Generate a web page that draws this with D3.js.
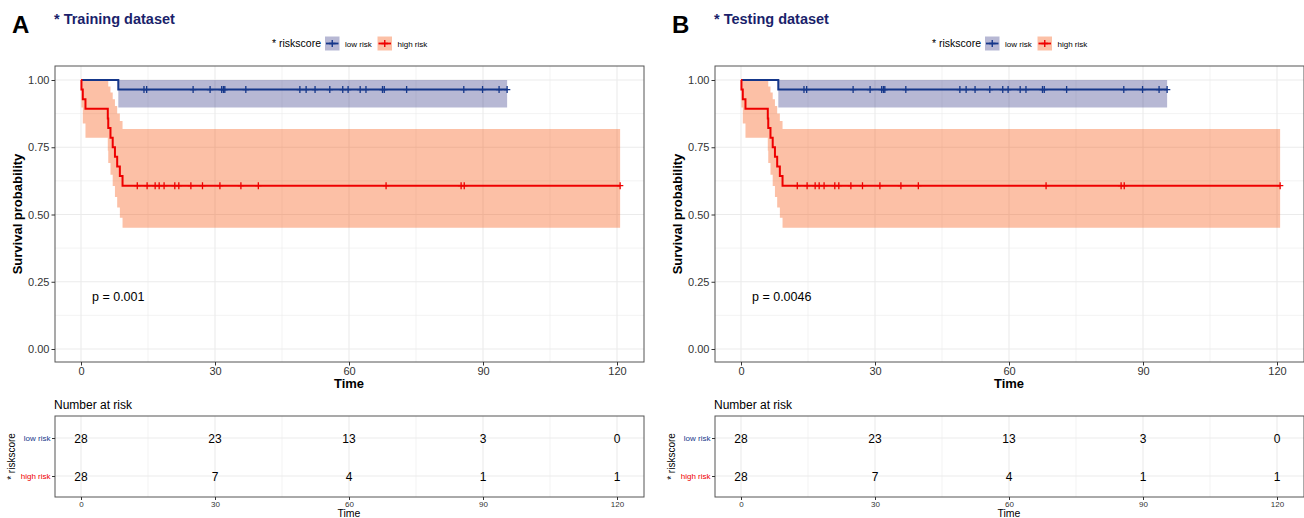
<!DOCTYPE html>
<html>
<head>
<meta charset="utf-8">
<script src="https://cdn.jsdelivr.net/npm/d3@7"></script>
<style>
  body { margin: 0; background: #fff; }
  svg { font-family: "Liberation Sans", Arial, sans-serif; }
</style>
</head>
<body>
<svg id="chart" width="1304" height="518"></svg>
<script>
// panels
const panelLabels = ['A', 'B'];
const panelTitles = ['* Training dataset', '* Testing dataset'];
const pValues = ['p = 0.001', 'p = 0.0046'];

const timeTicks = [0, 30, 60, 90, 120];
const survTicks = [0, 0.25, 0.5, 0.75, 1];
const groups = ['low risk', 'high risk'];

// low risk curve (step points)
const lowTimes = [0, 8.35];
const lowSurv = [1, 0.9643];
const lowLower = [1, 0.8979];
const lowUpper = [1, 1];
const lowEnd = 95.4;
const lowCensor = [14.1, 14.7, 25.1, 28.9, 31.5, 31.9, 32.2, 36.9, 49.0, 50.4, 52.4,
  55.7, 58.6, 59.8, 62.5, 63.8, 67.5, 67.9, 72.9, 85.7, 89.9, 93.6, 95.4];

// high risk curve
const highTimes = [0, 0.1, 0.4, 1.0, 6.0, 6.1, 6.6, 7.1, 7.6, 8.1, 8.7, 9.3];
const highSurv = [1, 0.9643, 0.9286, 0.8929, 0.8571, 0.8214, 0.7857, 0.75, 0.7143, 0.6786, 0.6429, 0.6071];
const highLower = [1, 0.8979, 0.8379, 0.7854, 0.7369, 0.6911, 0.6475, 0.6055, 0.5651, 0.5259, 0.4878, 0.4507];
const highUpper = [1, 1, 1, 1, 0.9971, 0.9763, 0.9534, 0.9289, 0.9029, 0.8756, 0.8473, 0.8179];
const highEnd = 120.7;
const highCensor = [12.6, 14.8, 16.6, 17.5, 18.6, 21.0, 21.9, 24.6, 27.2, 31.1, 35.8,
  39.7, 68.3, 85.1, 85.8, 120.7];

// number at risk
const atRiskLow = [28, 23, 13, 3, 0];
const atRiskHigh = [28, 7, 4, 1, 1];

const lineColors = ['#15378a', '#ee0000'];
const bandColors = ['#10146f', '#f64b00'];
const bandOpacity = [0.3, 0.35];
const labelColors = ['#15378a', '#ee0000'];

const curves = [
  { times: lowTimes, surv: lowSurv, lower: lowLower, upper: lowUpper, end: lowEnd, censor: lowCensor },
  { times: highTimes, surv: highSurv, lower: highLower, upper: highUpper, end: highEnd, censor: highCensor },
];
const atRisk = [atRiskLow, atRiskHigh];

const svg = d3.select('#chart');
const gridColor = '#ebebeb';
const textColor = '#333';

function drawPanel(k) {
  const dx = k * 660;
  const g = svg.append('g').attr('transform', `translate(${dx},0)`);

  // plot area
  const left = 55, right = 644, top = 66, bottom = 362;
  const x = d3.scaleLinear().domain([0, 120]).range([81, 617]);
  const y = d3.scaleLinear().domain([0, 1]).range([349, 80]);

  g.append('text').attr('x', 12).attr('y', 33)
    .attr('font-size', 24).attr('font-weight', 'bold').attr('fill', '#000')
    .text(panelLabels[k]);
  g.append('text').attr('x', 54).attr('y', 23.5)
    .attr('font-size', 14.5).attr('font-weight', 'bold').attr('fill', '#1a1f6b')
    .text(panelTitles[k]);

  // legend
  const lg = g.append('g').attr('transform', 'translate(272,43.5)');
  lg.append('text').attr('x', 0).attr('y', 3.5).attr('font-size', 10.5).attr('fill', '#000')
    .text('* riskscore');
  const keyX = [53, 105.5];
  groups.forEach((name, i) => {
    const kg = lg.append('g').attr('transform', `translate(${keyX[i]},0)`);
    kg.append('rect').attr('x', 0).attr('y', -7).attr('width', 14.5).attr('height', 14)
      .attr('fill', bandColors[i]).attr('fill-opacity', bandOpacity[i]);
    kg.append('line').attr('x1', 1).attr('x2', 13.5).attr('y1', 0).attr('y2', 0)
      .attr('stroke', lineColors[i]).attr('stroke-width', 1.8);
    kg.append('path').attr('d', 'M7.25,-3.5V3.5M4,0H10.5')
      .attr('stroke', lineColors[i]).attr('stroke-width', 1.4);
    kg.append('text').attr('x', 20).attr('y', 3).attr('font-size', 8).attr('fill', '#000')
      .text(name);
  });

  // grid
  const minorX = [-7.5, 15, 45, 75, 105];
  const minorY = [0.125, 0.375, 0.625, 0.875];
  const grid = g.append('g');
  grid.selectAll('.mx').data(minorX.filter(v => x(v) > left)).join('line')
    .attr('x1', d => x(d)).attr('x2', d => x(d)).attr('y1', top).attr('y2', bottom)
    .attr('stroke', gridColor).attr('stroke-width', 0.6);
  grid.selectAll('.my').data(minorY).join('line')
    .attr('x1', left).attr('x2', right).attr('y1', d => y(d)).attr('y2', d => y(d))
    .attr('stroke', gridColor).attr('stroke-width', 0.6);
  grid.selectAll('.gx').data(timeTicks).join('line')
    .attr('x1', d => x(d)).attr('x2', d => x(d)).attr('y1', top).attr('y2', bottom)
    .attr('stroke', gridColor).attr('stroke-width', 1.1);
  grid.selectAll('.gy').data(survTicks).join('line')
    .attr('x1', left).attr('x2', right).attr('y1', d => y(d)).attr('y2', d => y(d))
    .attr('stroke', gridColor).attr('stroke-width', 1.1);

  // bands, lines, censor marks
  curves.forEach((c, i) => {
    const pts = c.times.map((t, j) => ({ t, s: c.surv[j], lo: c.lower[j], up: c.upper[j] }));
    const last = pts[pts.length - 1];
    pts.push({ t: c.end, s: last.s, lo: last.lo, up: last.up });

    const area = d3.area().curve(d3.curveStepAfter)
      .x(d => x(d.t)).y0(d => y(d.lo)).y1(d => y(d.up));
    g.append('path').datum(pts).attr('d', area)
      .attr('fill', bandColors[i]).attr('fill-opacity', bandOpacity[i]);
  });
  curves.forEach((c, i) => {
    const pts = c.times.map((t, j) => ({ t, s: c.surv[j] }));
    pts.push({ t: c.end, s: c.surv[c.surv.length - 1] });
    const line = d3.line().curve(d3.curveStepAfter).x(d => x(d.t)).y(d => y(d.s));
    g.append('path').datum(pts).attr('d', line)
      .attr('fill', 'none').attr('stroke', lineColors[i]).attr('stroke-width', 2);

    const sAt = t => {
      let s = c.surv[0];
      c.times.forEach((tt, j) => { if (tt <= t) s = c.surv[j]; });
      return s;
    };
    g.append('g').selectAll('path').data(c.censor).join('path')
      .attr('transform', d => `translate(${x(d)},${y(sAt(d))})`)
      .attr('d', 'M0,-3.5V3.5M-3.2,0H3.2')
      .attr('stroke', lineColors[i]).attr('stroke-width', 1.3).attr('fill', 'none');
  });

  g.append('text').attr('x', 92).attr('y', 300.5).attr('font-size', 12.5).attr('fill', '#000')
    .text(pValues[k]);

  g.append('rect').attr('x', left).attr('y', top).attr('width', right - left).attr('height', bottom - top)
    .attr('fill', 'none').attr('stroke', '#555').attr('stroke-width', 1);

  // axes
  const yAxis = d3.axisLeft(y).tickValues(survTicks).tickFormat(d3.format('.2f'))
    .tickSize(3.5).tickPadding(2);
  const ya = g.append('g').attr('transform', `translate(${left},0)`).call(yAxis);
  const xAxis = d3.axisBottom(x).tickValues(timeTicks).tickSize(3.5).tickPadding(2);
  const xa = g.append('g').attr('transform', `translate(0,${bottom})`).call(xAxis);
  [ya, xa].forEach(a => {
    a.select('.domain').remove();
    a.selectAll('line').attr('stroke', textColor);
    a.selectAll('text').attr('font-size', 11).attr('fill', textColor)
      .attr('font-family', '"Liberation Sans", Arial, sans-serif');
  });

  g.append('text').attr('transform', `translate(22,${(top + bottom) / 2}) rotate(-90)`)
    .attr('text-anchor', 'middle').attr('font-size', 13).attr('font-weight', 'bold')
    .text('Survival probability');
  g.append('text').attr('x', (81 + 617) / 2).attr('y', 388).attr('text-anchor', 'middle')
    .attr('font-size', 13).attr('font-weight', 'bold').text('Time');

  // risk table
  const tTop = 416, tBottom = 497;
  const ry = d3.scalePoint().domain(groups).range([438, 476]);
  g.append('text').attr('x', 54).attr('y', 409).attr('font-size', 12).attr('fill', '#000')
    .text('Number at risk');
  const tg = g.append('g');
  tg.selectAll('.tmx').data(minorX.filter(v => x(v) > left)).join('line')
    .attr('x1', d => x(d)).attr('x2', d => x(d)).attr('y1', tTop).attr('y2', tBottom)
    .attr('stroke', gridColor).attr('stroke-width', 0.6);
  tg.selectAll('.tgx').data(timeTicks).join('line')
    .attr('x1', d => x(d)).attr('x2', d => x(d)).attr('y1', tTop).attr('y2', tBottom)
    .attr('stroke', gridColor).attr('stroke-width', 1.1);
  tg.selectAll('.tgy').data(groups).join('line')
    .attr('x1', left).attr('x2', right).attr('y1', d => ry(d)).attr('y2', d => ry(d))
    .attr('stroke', gridColor).attr('stroke-width', 1.1);

  groups.forEach((name, i) => {
    tg.append('g').selectAll('text').data(atRisk[i]).join('text')
      .attr('x', (d, j) => x(timeTicks[j])).attr('y', ry(name) + 4.5)
      .attr('text-anchor', 'middle').attr('font-size', 12).attr('fill', '#000')
      .text(d => d);
  });

  tg.append('rect').attr('x', left).attr('y', tTop).attr('width', right - left).attr('height', tBottom - tTop)
    .attr('fill', 'none').attr('stroke', '#555').attr('stroke-width', 1);

  const ryAxis = d3.axisLeft(ry).tickSize(3).tickPadding(1.5);
  const rya = tg.append('g').attr('transform', `translate(${left},0)`).call(ryAxis);
  rya.select('.domain').remove();
  rya.selectAll('line').attr('stroke', textColor);
  rya.selectAll('text').attr('font-size', 8).attr('fill', (d, i) => labelColors[i])
    .attr('font-family', '"Liberation Sans", Arial, sans-serif');

  const rxAxis = d3.axisBottom(x).tickValues(timeTicks).tickSize(3).tickPadding(1.5);
  const rxa = tg.append('g').attr('transform', `translate(0,${tBottom})`).call(rxAxis);
  rxa.select('.domain').remove();
  rxa.selectAll('line').attr('stroke', textColor);
  rxa.selectAll('text').attr('font-size', 8).attr('fill', textColor)
    .attr('font-family', '"Liberation Sans", Arial, sans-serif');

  tg.append('text').attr('x', (81 + 617) / 2).attr('y', 517).attr('text-anchor', 'middle')
    .attr('font-size', 10.5).attr('fill', '#000').text('Time');
  tg.append('text').attr('transform', `translate(15,${(tTop + tBottom) / 2}) rotate(-90)`)
    .attr('text-anchor', 'middle').attr('font-size', 10).attr('fill', '#000')
    .text('* riskscore');
}

drawPanel(0);
drawPanel(1);
</script>
</body>
</html>
